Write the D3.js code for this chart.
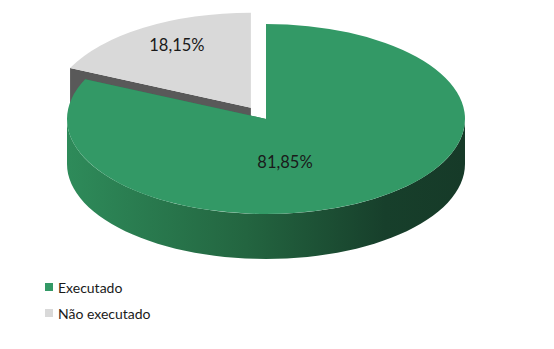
<!DOCTYPE html>
<html>
<head>
<meta charset="utf-8">
<script src="https://cdn.jsdelivr.net/npm/d3@7"></script>
<style>
  body { margin: 0; background: #fff; }
  svg text { font-family: Lato, "Open Sans", sans-serif; fill: #1a1a1a; }
</style>
</head>
<body>
<div id="chart"></div>
<script>
// Chart data
const categories = ["Executado", "Não executado"];
const values = [81.85, 18.15];
const labels = ["81,85%", "18,15%"];

const colors = {top: ["#339966", "#d9d9d9"], side: ["#2a7d52", "#595959"]};

const width = 554, height = 349;
const cx = 266, cy = 119, rx = 199, ry = 95, depth = 45;
const explode = [0, 28];

const svg = d3.select("#chart").append("svg")
    .attr("width", width)
    .attr("height", height);

const defs = svg.append("defs");
const grad = defs.append("linearGradient")
    .attr("id", "sideGrad")
    .attr("gradientUnits", "userSpaceOnUse")
    .attr("x1", cx - rx).attr("x2", cx + rx)
    .attr("y1", 0).attr("y2", 0);
grad.append("stop").attr("offset", "0%").attr("stop-color", "#2e8b5a");
grad.append("stop").attr("offset", "45%").attr("stop-color", "#236540");
grad.append("stop").attr("offset", "80%").attr("stop-color", "#173f2b");
grad.append("stop").attr("offset", "100%").attr("stop-color", "#163a28");

const pie = d3.pie().sort(null).value(d => d);
const arcs = pie(values);

// point on the ellipse for angle a (clockwise from 12 o'clock)
const pt = (a, ox, oy, dz = 0) => [ox + rx * Math.sin(a), oy - ry * Math.cos(a) + dz];

const line = d3.line();

arcs.forEach((d, i) => {
    const mid = (d.startAngle + d.endAngle) / 2;
    d.ox = cx + explode[i] * Math.sin(mid);
    d.oy = cy - explode[i] * Math.cos(mid) * ry / rx;
});

// draw back slice first, front slice last
const order = [1, 0];

order.forEach(i => {
    const d = arcs[i];
    const g = svg.append("g");

    // radial side faces
    [d.startAngle, d.endAngle].forEach(a => {
        const p = pt(a, d.ox, d.oy);
        const c = [d.ox, d.oy];
        const poly = [c, p, [p[0], p[1] + depth], [c[0], c[1] + depth]];
        g.append("path")
            .attr("d", line(poly) + "Z")
            .attr("fill", colors.side[i]);
    });

    // outer curved side, front half only
    const a0 = Math.max(d.startAngle, Math.PI / 2);
    const a1 = Math.min(d.endAngle, 3 * Math.PI / 2);
    if (a1 > a0) {
        const steps = d3.range(0, 61).map(k => a0 + (a1 - a0) * k / 60);
        const topPts = steps.map(a => pt(a, d.ox, d.oy));
        const botPts = steps.slice().reverse().map(a => pt(a, d.ox, d.oy, depth));
        g.append("path")
            .attr("d", line(topPts.concat(botPts)) + "Z")
            .attr("fill", i === 0 ? "url(#sideGrad)" : colors.side[i]);
    }

    // top face
    const arc = d3.arc().innerRadius(0).outerRadius(rx);
    g.append("path")
        .attr("transform", `translate(${d.ox},${d.oy}) scale(1,${ry / rx})`)
        .attr("d", arc(d))
        .attr("fill", colors.top[i]);
});

// data labels
const labelOffset = [[19, 43], [-74, -63]];
arcs.forEach((d, i) => {
    svg.append("text")
        .attr("x", d.ox + labelOffset[i][0])
        .attr("y", d.oy + labelOffset[i][1])
        .attr("text-anchor", "middle")
        .attr("dominant-baseline", "central")
        .style("font-size", "16.5px")
        .text(labels[i]);
});

// legend
const legend = svg.append("g").attr("transform", "translate(45, 287)");
categories.forEach((c, i) => {
    const row = legend.append("g").attr("transform", `translate(0, ${i * 26})`);
    row.append("rect")
        .attr("x", 0).attr("y", -4)
        .attr("width", 8).attr("height", 8)
        .attr("fill", colors.top[i]);
    row.append("text")
        .attr("x", 13).attr("y", 0)
        .attr("dominant-baseline", "central")
        .style("font-size", "14px")
        .text(c);
});
</script>
</body>
</html>
